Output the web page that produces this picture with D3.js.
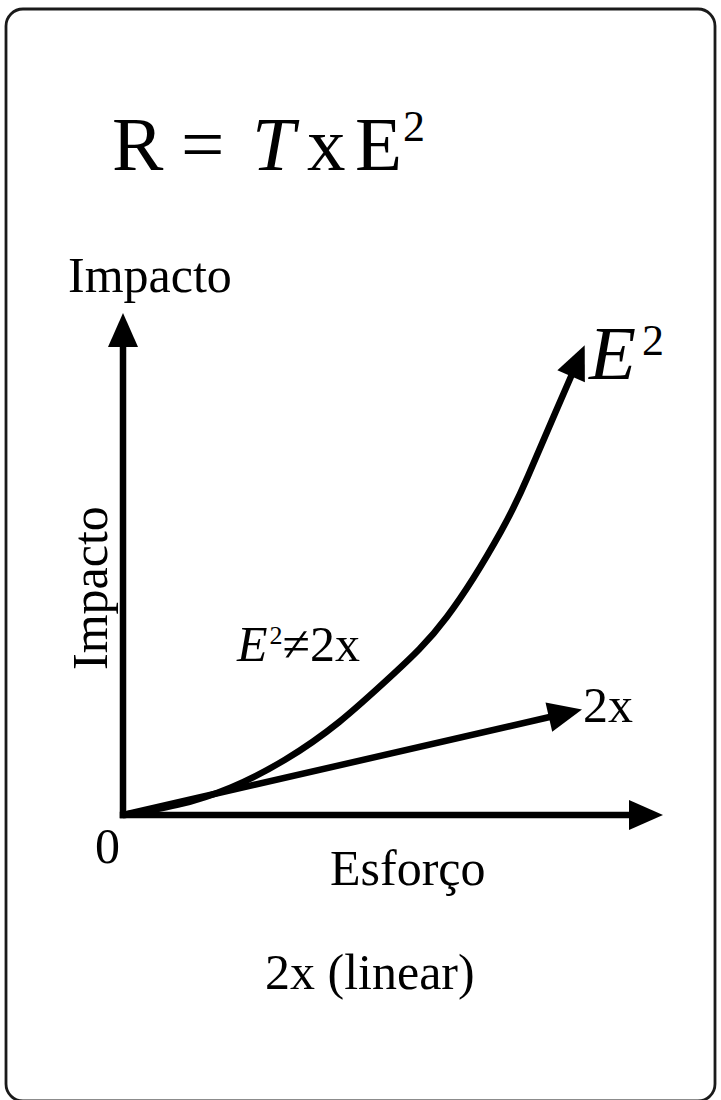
<!DOCTYPE html>
<html>
<head>
<meta charset="utf-8">
<script src="https://cdn.jsdelivr.net/npm/d3@7"></script>
<style>
  html, body { margin: 0; padding: 0; background: #fff; }
  svg { display: block; }
  text { font-family: "Liberation Serif", "Times New Roman", "DejaVu Serif", serif; fill: #000; }
</style>
</head>
<body>
<script>
// ---- data ----
const effort    = [0, 1, 2, 3, 4, 5, 6, 7, 7.5, 8, 8.55];
const impactE2  = [0, 0.2, 0.55, 1.1, 1.85, 2.8, 3.95, 5.65, 6.75, 8.0, 9.36];
const linearEffort = [0, 8.5];
const linearImpact = [0, 2.1];
const xDomain = [0, 10];
const yDomain = [0, 10];
const yLabel = "Impacto";
const xLabel = "Esforço";
const originLabel = "0";
const footnote = "2x (linear)";

const W = 721, H = 1100;
const svg = d3.select("body").append("svg").attr("width", W).attr("height", H);

// frame
svg.append("rect").attr("x", 6).attr("y", 9).attr("width", 709).attr("height", 1092)
  .attr("rx", 17).attr("fill", "#fff").attr("stroke", "#1a1a1a").attr("stroke-width", 2.8);

// title  R = T x E²
function tt(str, x0, yb, fs, italic) {
  const t = svg.append("text").attr("x", x0).attr("y", yb).attr("font-size", fs).text(str);
  if (italic) t.attr("font-style", "italic");
}
tt("R", 112, 170, 77);
tt("=", 181, 170, 77);
tt("T", 252, 170, 77, true);
tt("x", 307, 170, 77);
tt("E", 355, 170, 77);
tt("2", 403, 141, 44);

// scales
const x = d3.scaleLinear().domain(xDomain).range([123, 663]);
const y = d3.scaleLinear().domain(yDomain).range([815, 313]);

const SW = 6.5, AL = 34, AH = 15;
function arrowHead(tx, ty, dx, dy) {
  const len = Math.hypot(dx, dy), ux = dx / len, uy = dy / len;
  const bx = tx - AL * ux, by = ty - AL * uy;
  const nx = -uy, ny = ux;
  svg.append("path")
    .attr("d", `M${tx},${ty}L${bx + AH * nx},${by + AH * ny}L${bx - AH * nx},${by - AH * ny}Z`)
    .attr("fill", "#000");
}
function arrowLine(x1, y1, x2, y2) {
  const len = Math.hypot(x2 - x1, y2 - y1), ux = (x2 - x1) / len, uy = (y2 - y1) / len;
  svg.append("line").attr("x1", x1).attr("y1", y1)
    .attr("x2", x2 - 22 * ux).attr("y2", y2 - 22 * uy)
    .attr("stroke", "#000").attr("stroke-width", SW);
  arrowHead(x2, y2, x2 - x1, y2 - y1);
}

// axes
arrowLine(x(xDomain[0]), y(yDomain[0]) + SW / 2, x(xDomain[0]), y(yDomain[1]));
arrowLine(x(xDomain[0]) - SW / 2, y(yDomain[0]), x(xDomain[1]), y(yDomain[0]));

// linear line
arrowLine(x(linearEffort[0]), y(linearImpact[0]), x(linearEffort[1]), y(linearImpact[1]));

// E² curve
const pts = effort.map((e, i) => [x(e), y(impactE2[i])]);
const line = d3.line().curve(d3.curveNatural);
const cp = svg.append("path").attr("d", line(pts)).attr("fill", "none")
  .attr("stroke", "#000").attr("stroke-width", SW);
const L = cp.node().getTotalLength();
cp.attr("stroke-dasharray", `${L - 22} ${L + 50}`);
const tip = cp.node().getPointAtLength(L), back = cp.node().getPointAtLength(L - 14);
arrowHead(tip.x, tip.y, tip.x - back.x, tip.y - back.y);

// labels
svg.append("text").attr("x", 68).attr("y", 292).attr("font-size", 50).text(yLabel);
svg.append("text").attr("transform", "translate(107,670) rotate(-90)").attr("font-size", 50).text(yLabel);
svg.append("text").attr("x", 95).attr("y", 863).attr("font-size", 50).text(originLabel);
svg.append("text").attr("x", 330).attr("y", 885).attr("font-size", 50).text(xLabel);
svg.append("text").attr("x", 265).attr("y", 989).attr("font-size", 50).text(footnote);

// curve labels
const e2 = svg.append("text").attr("x", 589).attr("y", 379).attr("font-size", 77);
e2.append("tspan").attr("font-style", "italic").text("E");
e2.append("tspan").attr("font-size", 44).attr("dy", -24).attr("dx", 6).text("2");
svg.append("text").attr("x", 583).attr("y", 722).attr("font-size", 50).text("2x");

const lab = svg.append("text").attr("x", 237).attr("y", 661).attr("font-size", 50);
lab.append("tspan").attr("font-style", "italic").text("E");
lab.append("tspan").attr("font-size", 26).attr("dy", -17).attr("dx", 2).text("2");
lab.append("tspan").attr("dy", 17).text("≠2x");
</script>
</body>
</html>
